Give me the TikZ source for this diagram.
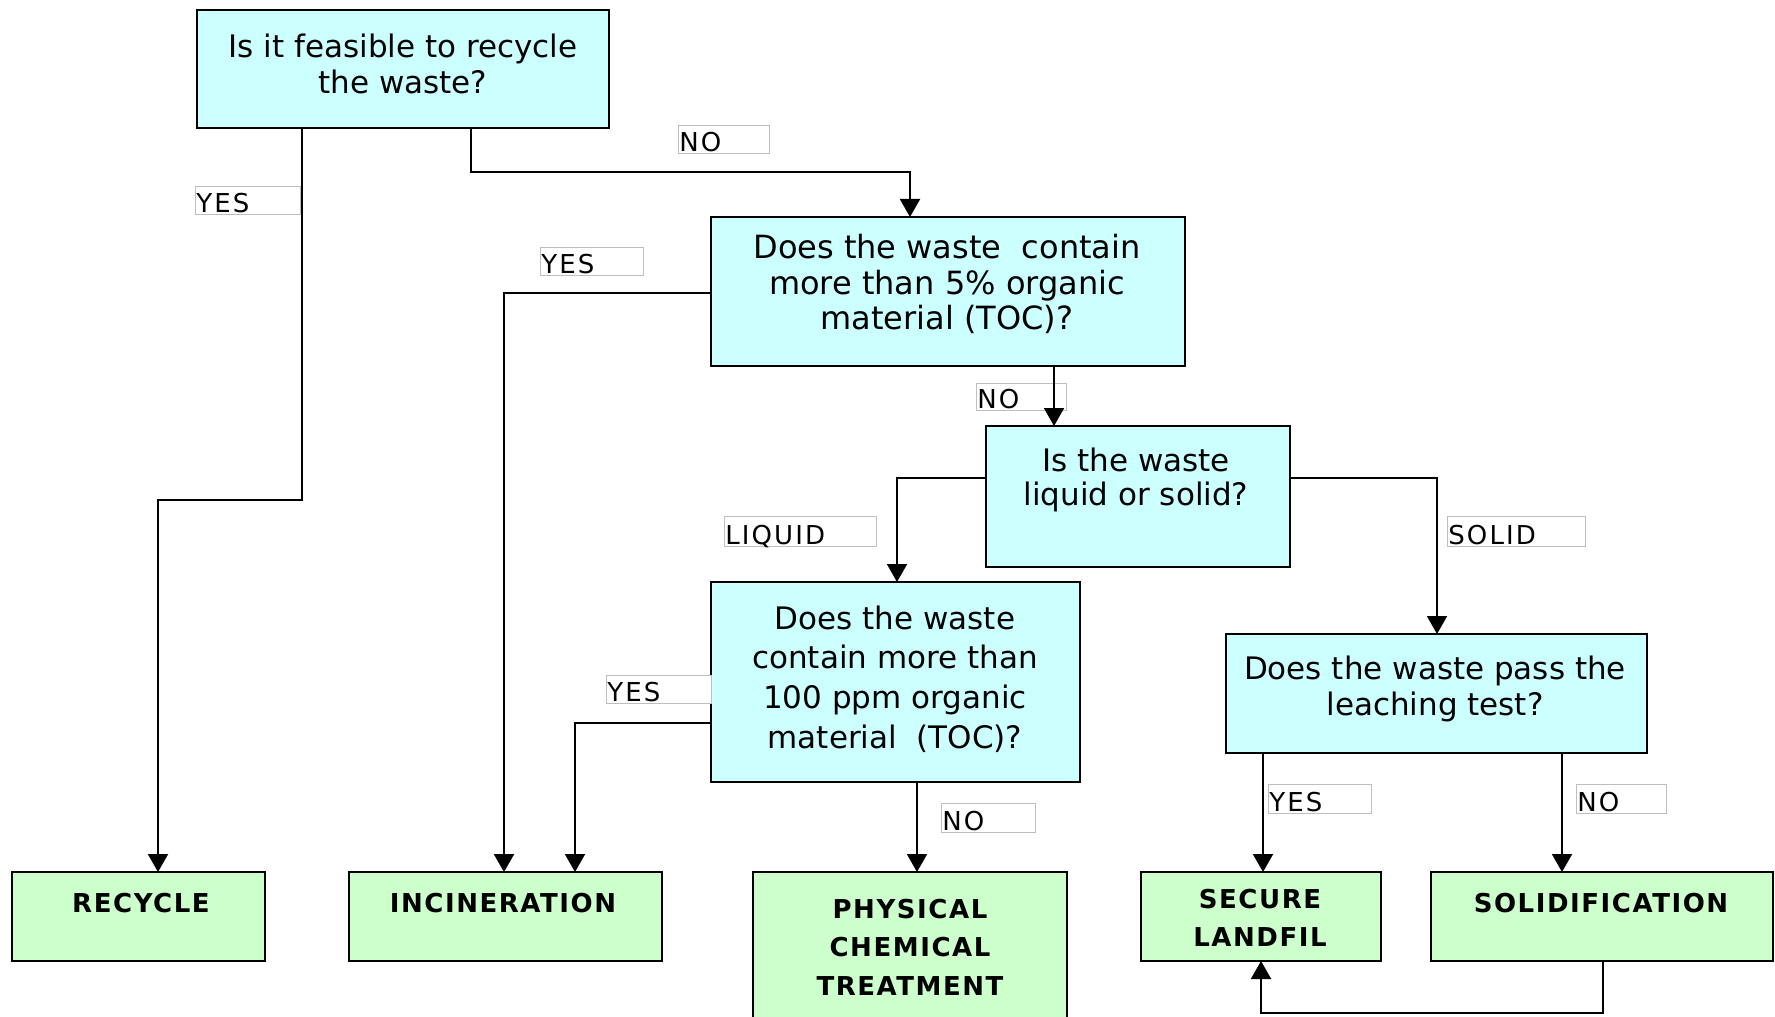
\documentclass[tikz,border=0pt]{standalone}
\usepackage{fontspec}
\setmainfont{DejaVu Sans}
\newfontfamily\lblfont[LetterSpace=8]{DejaVu Sans}
\newfontfamily\grnfont[LetterSpace=6]{DejaVu Sans}
\usetikzlibrary{arrows.meta}
\definecolor{qcyan}{RGB}{204,255,255}
\definecolor{qgreen}{RGB}{204,255,204}
\definecolor{lblgray}{RGB}{190,190,190}
\tikzset{
  cbox/.style={draw=black, line width=1.1pt, fill=qcyan, rectangle, inner sep=0pt, outer sep=0pt},
  gbox/.style={draw=black, line width=1.1pt, fill=qgreen, rectangle, inner sep=0pt, outer sep=0pt},
  qtext/.style={align=center, inner sep=0pt, font=\fontsize{15.5}{18}\selectfont},
  gtext/.style={align=center, inner sep=0pt, font=\grnfont\fontsize{13}{19.2}\selectfont\bfseries},
  lblbox/.style={draw=lblgray, line width=0.5pt, fill=white, rectangle, inner sep=0pt, outer sep=0pt, anchor=north west},
  lbltext/.style={inner sep=0pt, anchor=base west, font=\lblfont\fontsize{13}{15}\selectfont},
  conn/.style={draw=black, line width=1pt, -{Triangle[width=10pt,length=9pt]}},
  plain/.style={draw=black, line width=1pt}
}
\begin{document}
\begin{tikzpicture}[x=0.5pt,y=-0.5pt]
\useasboundingbox (0,0) rectangle (1775,1016);
\clip (0,0) rectangle (1775,1016);
\fill[white] (0,0) rectangle (1775,1016);

% question boxes
\node[cbox, minimum width=206pt, minimum height=59pt] (b1) at (403,69) {};
\node[cbox, minimum width=237pt, minimum height=74.5pt] (b2) at (948,291.5) {};
\node[cbox, minimum width=152pt, minimum height=70.5pt] (b3) at (1138,496.5) {};
\node[cbox, minimum width=184.5pt, minimum height=100pt] (b4) at (895.5,682) {};
\node[cbox, minimum width=210.5pt, minimum height=59.5pt] (b5) at (1436.5,693.5) {};

\node[qtext] (t1) at (403,64) {Is it feasible to recycle\\the waste?};
\node[qtext, font=\fontsize{16}{17.8}\selectfont] (t2) at (947,284) {Does the waste\ \ contain\\more than 5\% organic\\material (TOC)?};
\node[qtext, font=\fontsize{15.5}{17}\selectfont] (t3) at (1136,480) {Is the waste\\liquid or solid?};
\node[qtext, font=\fontsize{15.5}{19.8}\selectfont] (t4) at (895,679) {Does the waste\\contain more than\\100 ppm organic\\material\ \ (TOC)?};
\node[qtext] (t5) at (1435,689) {Does the waste pass the\\leaching test?};

% result boxes
\node[gbox, minimum width=126.5pt, minimum height=44.5pt] (recycle) at (138.5,916.5) {};
\node[gbox, minimum width=156.5pt, minimum height=44.5pt] (incin) at (505.5,916.5) {};
\node[gbox, minimum width=157pt, minimum height=84pt] (phys) at (910,956) {};
\node[gbox, minimum width=120pt, minimum height=44.5pt] (secure) at (1261,916.5) {};
\node[gbox, minimum width=171pt, minimum height=44.5pt] (solidif) at (1602,916.5) {};

\node[gtext] (g1) at (141,903) {RECYCLE};
\node[gtext] (g2) at (503,903) {INCINERATION};
\node[gtext] (g3) at (910,947) {PHYSICAL\\CHEMICAL\\TREATMENT};
\node[gtext] (g4) at (1260,918) {SECURE\\LANDFIL};
\node[gtext] (g5) at (1601,903) {SOLIDIFICATION};

% label boxes
\node[lblbox, minimum width=52.5pt, minimum height=14pt] (lyes1) at (195,187) {};
\node[lblbox, minimum width=45.5pt, minimum height=14pt] (lno1) at (678,126) {};
\node[lblbox, minimum width=51.5pt, minimum height=14pt] (lyes2) at (540,247) {};
\node[lblbox, minimum width=45pt, minimum height=13.5pt] (lno2) at (976,383) {};
\node[lblbox, minimum width=76pt, minimum height=15pt] (lliq) at (724,516) {};
\node[lblbox, minimum width=69pt, minimum height=15pt] (lsol) at (1447,516) {};
\node[lblbox, minimum width=52.5pt, minimum height=14pt] (lyes3) at (606,675) {};
\node[lblbox, minimum width=47pt, minimum height=14.5pt] (lno3) at (941,803) {};
\node[lblbox, minimum width=51.5pt, minimum height=14.5pt] (lyes4) at (1268,784) {};
\node[lblbox, minimum width=45pt, minimum height=14.5pt] (lno4) at (1576,784) {};

\node[lbltext] at ([xshift=0.5pt,yshift=1pt]lyes1.south west) {YES};
\node[lbltext] at ([xshift=0.5pt,yshift=1pt]lno1.south west) {NO};
\node[lbltext] at ([xshift=0.5pt,yshift=1pt]lyes2.south west) {YES};
\node[lbltext] at ([xshift=0.5pt,yshift=1pt]lno2.south west) {NO};
\node[lbltext] at ([xshift=0.5pt,yshift=1pt]lliq.south west) {LIQUID};
\node[lbltext] at ([xshift=0.5pt,yshift=1pt]lsol.south west) {SOLID};
\node[lbltext] at ([xshift=0.5pt,yshift=1pt]lyes3.south west) {YES};
\node[lbltext] at ([xshift=0.5pt,yshift=1pt]lno3.south west) {NO};
\node[lbltext] at ([xshift=0.5pt,yshift=1pt]lyes4.south west) {YES};
\node[lbltext] at ([xshift=0.5pt,yshift=1pt]lno4.south west) {NO};

% bend coordinates
\coordinate (k1a) at (302,500);
\coordinate (k1b) at (158,500);
\coordinate (k2a) at (471,172);
\coordinate (k2b) at (910,172);
\coordinate (k3a) at (711,293);
\coordinate (k3b) at (504,293);
\coordinate (k4) at (1054,0);
\coordinate (k5a) at (986,478);
\coordinate (k5b) at (897,478);
\coordinate (k6a) at (1290,478);
\coordinate (k6b) at (1437,478);
\coordinate (k7a) at (711,723);
\coordinate (k7b) at (575,723);
\coordinate (k8) at (917,0);
\coordinate (k9) at (1263,0);
\coordinate (k10) at (1562,0);
\coordinate (k11a) at (1603,1013);
\coordinate (k11b) at (1261,1013);

% connectors
\draw[conn] (b1.south -| k1a) -- (k1a) -- (k1b) -- (recycle.north -| k1b);
\draw[conn] (b1.south -| k2a) -- (k2a) -- (k2b) -- (b2.north -| k2b);
\draw[conn] (k3a) -- (k3b) -- (incin.north -| k3b);
\draw[conn] (b2.south -| k4) -- (b3.north -| k4);
\draw[conn] (k5a) -- (k5b) -- (b4.north -| k5b);
\draw[conn] (k6a) -- (k6b) -- (b5.north -| k6b);
\draw[conn] (k7a) -- (k7b) -- (incin.north -| k7b);
\draw[conn] (b4.south -| k8) -- (phys.north -| k8);
\draw[conn] (b5.south -| k9) -- (secure.north -| k9);
\draw[conn] (b5.south -| k10) -- (solidif.north -| k10);
\draw[conn] (solidif.south -| k11a) -- (k11a) -- (k11b) -- (secure.south -| k11b);
\end{tikzpicture}
\end{document}
